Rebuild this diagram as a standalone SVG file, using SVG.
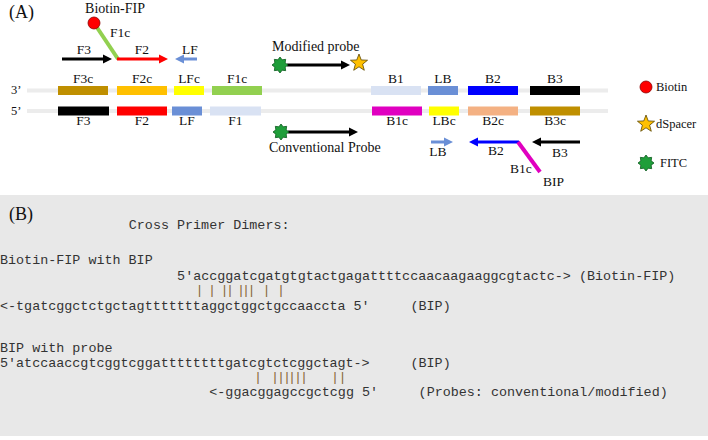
<svg xmlns="http://www.w3.org/2000/svg" width="708" height="440" viewBox="0 0 708 440">
<defs>
<style>
.lbl{font-family:"Liberation Serif","Times New Roman",serif;font-size:13.5px;fill:#111;text-anchor:middle}
.lblL{font-family:"Liberation Serif","Times New Roman",serif;font-size:13.5px;fill:#111}
.leg{font-family:"Liberation Serif","Times New Roman",serif;font-size:12.5px;fill:#111}
.ttl{font-family:"Liberation Serif","Times New Roman",serif;font-size:18px;fill:#111}
.mono{font-family:"Liberation Mono","Courier New",monospace;font-size:13.4px;fill:#333}
.bar{font-family:"Liberation Mono","Courier New",monospace;font-size:13.4px;fill:#8a6a3a}
.bb{stroke:#ececec;stroke-width:4}
.arr{stroke-width:3;fill:none}
</style>
<marker id="hk" viewBox="0 0 10 10" refX="0" refY="5" markerWidth="3" markerHeight="3.4" orient="auto" markerUnits="strokeWidth"><path d="M0,0L10,5L0,10z" fill="#000"/></marker>
<marker id="hr" viewBox="0 0 10 10" refX="0" refY="5" markerWidth="3" markerHeight="3.4" orient="auto" markerUnits="strokeWidth"><path d="M0,0L10,5L0,10z" fill="#ff0000"/></marker>
<marker id="hl" viewBox="0 0 10 10" refX="0" refY="5" markerWidth="3" markerHeight="3.4" orient="auto" markerUnits="strokeWidth"><path d="M0,0L10,5L0,10z" fill="#6a8fd6"/></marker>
<marker id="hb" viewBox="0 0 10 10" refX="0" refY="5" markerWidth="3" markerHeight="3.4" orient="auto" markerUnits="strokeWidth"><path d="M0,0L10,5L0,10z" fill="#0000ff"/></marker>
<polygon id="fitc" points="0,-8 2.14,-5.17 5.66,-5.66 5.17,-2.14 8,0 5.17,2.14 5.66,5.66 2.14,5.17 0,8 -2.14,5.17 -5.66,5.66 -5.17,2.14 -8,0 -5.17,-2.14 -5.66,-5.66 -2.14,-5.17" fill="#1f9e3a" stroke="#0d5a1e" stroke-width="0.8"/>
<polygon id="dsp" points="0,-9 2.23,-3.07 8.56,-2.78 3.61,1.17 5.29,7.28 0,3.8 -5.29,7.28 -3.61,1.17 -8.56,-2.78 -2.23,-3.07" fill="#ffc000" stroke="#5a4500" stroke-width="0.8"/>
</defs>

<rect x="0" y="0" width="708" height="440" fill="#ffffff"/>

<!-- Panel A -->
<text class="ttl" x="9" y="18">(A)</text>
<text class="lblL" x="11" y="94" style="font-size:12.5px">3’</text>
<text class="lblL" x="11" y="115" style="font-size:12.5px">5’</text>

<g id="backbone">
<line class="bb" x1="27" y1="90.5" x2="608" y2="90.5"/>
<line class="bb" x1="27" y1="111" x2="608" y2="111"/>
</g>

<g id="top-strand">
<g id="F3c"><rect x="58" y="86" width="50" height="9" fill="#bf8f00"/><text class="lbl" x="83" y="83">F3c</text></g>
<g id="F2c"><rect x="117" y="86" width="50" height="9" fill="#ffc000"/><text class="lbl" x="142" y="83">F2c</text></g>
<g id="LFc"><rect x="174" y="86" width="30" height="9" fill="#ffff00"/><text class="lbl" x="189" y="83">LFc</text></g>
<g id="F1c"><rect x="212" y="86" width="50" height="9" fill="#92d050"/><text class="lbl" x="237" y="83">F1c</text></g>
<g id="B1"><rect x="371" y="86" width="50" height="9" fill="#d9e2f3"/><text class="lbl" x="396" y="83">B1</text></g>
<g id="LB"><rect x="428" y="86" width="30" height="9" fill="#6a8fd6"/><text class="lbl" x="443" y="83">LB</text></g>
<g id="B2"><rect x="468" y="86" width="50" height="9" fill="#0000ff"/><text class="lbl" x="493" y="83">B2</text></g>
<g id="B3"><rect x="530" y="86" width="50" height="9" fill="#000000"/><text class="lbl" x="555" y="83">B3</text></g>
</g>

<g id="bottom-strand">
<g id="F3"><rect x="58" y="106.5" width="51" height="9" fill="#000000"/><text class="lbl" x="83.5" y="125">F3</text></g>
<g id="F2"><rect x="117" y="106.5" width="50" height="9" fill="#ff0000"/><text class="lbl" x="142" y="125">F2</text></g>
<g id="LF"><rect x="172" y="106.5" width="30" height="9" fill="#6a8fd6"/><text class="lbl" x="187" y="125">LF</text></g>
<g id="F1"><rect x="210" y="106.5" width="51" height="9" fill="#d9e2f3"/><text class="lbl" x="235.5" y="125">F1</text></g>
<g id="B1c"><rect x="372" y="106.5" width="50" height="9" fill="#e000c0"/><text class="lbl" x="397" y="125">B1c</text></g>
<g id="LBc"><rect x="429" y="106.5" width="30" height="9" fill="#ffff00"/><text class="lbl" x="444" y="125">LBc</text></g>
<g id="B2c"><rect x="468" y="106.5" width="50" height="9" fill="#f4b183"/><text class="lbl" x="493" y="125">B2c</text></g>
<g id="B3c"><rect x="530" y="106.5" width="50" height="9" fill="#bf8f00"/><text class="lbl" x="555" y="125">B3c</text></g>
</g>

<g id="connectors">
<line x1="94" y1="23" x2="118" y2="59" stroke="#92d050" stroke-width="4"/>
<line class="arr" x1="62" y1="59" x2="103" y2="59" stroke="#000" marker-end="url(#hk)"/>
<line class="arr" x1="117" y1="59" x2="159" y2="59" stroke="#ff0000" marker-end="url(#hr)"/>
<line class="arr" x1="197" y1="59" x2="184" y2="59" stroke="#6a8fd6" marker-end="url(#hl)"/>
<line class="arr" x1="287" y1="65" x2="341" y2="65" stroke="#000" marker-end="url(#hk)"/>
<line class="arr" x1="288" y1="132" x2="349" y2="132" stroke="#000" marker-end="url(#hk)"/>
<line class="arr" x1="431" y1="142" x2="444" y2="142" stroke="#6a8fd6" marker-end="url(#hl)"/>
<line class="arr" x1="519" y1="142" x2="478" y2="142" stroke="#0000ff" marker-end="url(#hb)"/>
<line x1="518" y1="142" x2="540" y2="172" stroke="#e000c0" stroke-width="4"/>
<line class="arr" x1="580" y1="142" x2="541" y2="142" stroke="#000" marker-end="url(#hk)"/>
</g>

<g id="biotin-fip">
<circle cx="94" cy="23" r="6" fill="#ff0000" stroke="#8b0000" stroke-width="0.8"/>
<text class="lbl" x="115" y="13" style="font-size:14px">Biotin-FIP</text>
<text class="lblL" x="110" y="37">F1c</text>
<text class="lbl" x="84" y="54">F3</text>
<text class="lbl" x="142" y="54">F2</text>
<text class="lbl" x="190" y="54">LF</text>
</g>

<g id="modified-probe">
<use href="#fitc" x="280" y="65"/>
<use href="#dsp" x="359" y="63"/>
<text class="lblL" x="272" y="51" style="font-size:14px">Modified probe</text>
</g>

<g id="conventional-probe">
<use href="#fitc" x="281" y="132"/>
<text class="lblL" x="269" y="152" style="font-size:14px">Conventional Probe</text>
</g>

<g id="bip">
<text class="lbl" x="438" y="156">LB</text>
<text class="lbl" x="496" y="155">B2</text>
<text class="lblL" x="510" y="173">B1c</text>
<text class="lblL" x="543" y="186">BIP</text>
<text class="lbl" x="560" y="157">B3</text>
</g>

<g id="legend">
<circle cx="646" cy="87" r="6" fill="#ff0000" stroke="#8b0000" stroke-width="0.8"/>
<text class="leg" x="656" y="91">Biotin</text>
<use href="#dsp" x="646" y="124"/>
<text class="leg" x="656" y="128">dSpacer</text>
<use href="#fitc" x="646" y="163"/>
<text class="leg" x="660" y="167">FITC</text>
</g>

<!-- Panel B -->
<g id="panel-b">
<rect x="0" y="195" width="708" height="241" fill="#e8e8e8"/>
<text class="ttl" x="9" y="220">(B)</text>
<text class="mono" x="128.8" y="229">Cross Primer Dimers:</text>
<text class="mono" x="0" y="264">Biotin-FIP with BIP</text>
<text class="mono" x="177.1" y="280">5'accggatcgatgtgtactgagattttccaacaagaaggcgtactc-&gt; (Biotin-FIP)</text>
<text class="bar" x="195.5 208 220.5 226 237 242 247.5 262.5 277" y="294">|||||||||</text>
<text class="mono" x="0" y="310">&lt;-tgatcggctctgctagtttttttaggctggctgccaaccta 5'</text>
<text class="mono" x="410.5" y="310">(BIP)</text>
<text class="mono" x="0" y="352">BIP with probe</text>
<text class="mono" x="0" y="367">5'atccaaccgtcggtcggattttttttgatcgtctcggctagt-&gt;</text>
<text class="mono" x="410.5" y="367">(BIP)</text>
<text class="bar" x="254 271 277 283 288 294 300 331 338.5" y="381">|||||||||</text>
<text class="mono" x="209.3" y="396">&lt;-ggacggagccgctcgg 5'</text>
<text class="mono" x="418.6" y="396">(Probes: conventional/modified)</text>
</g>
</svg>
